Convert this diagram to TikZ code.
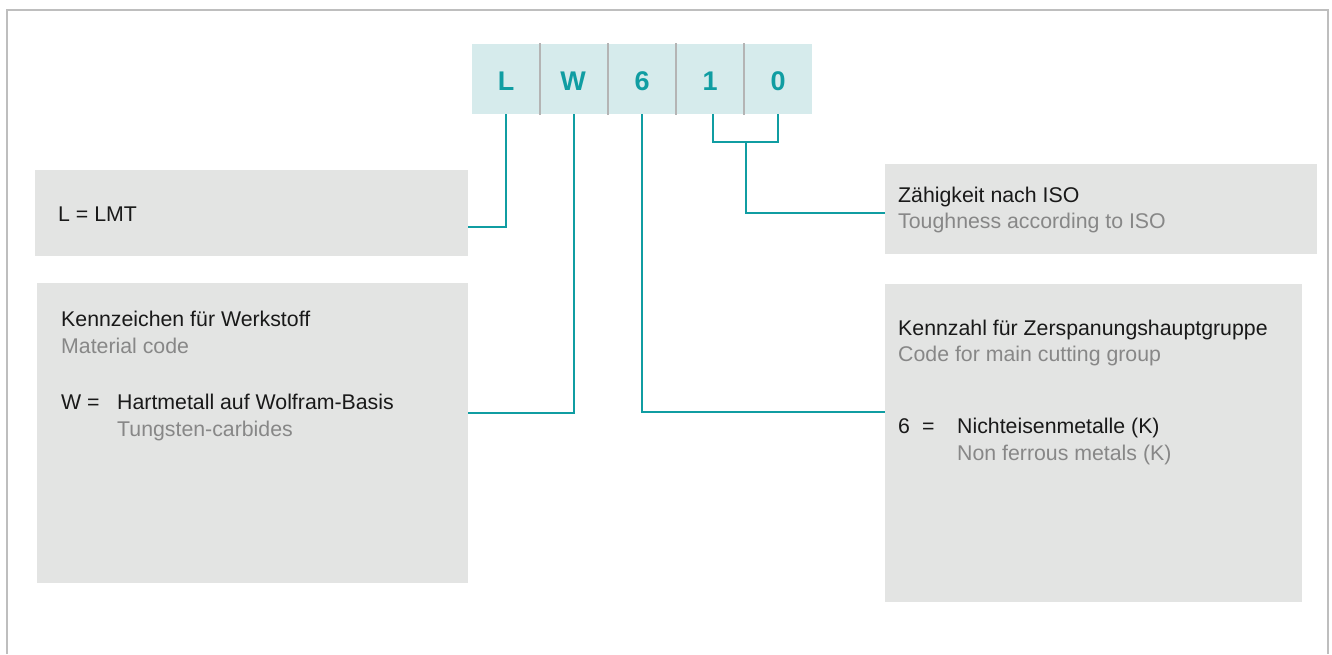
\documentclass[tikz,border=0pt]{standalone}
\usepackage{fontspec}
\setmainfont{Liberation Sans}
\definecolor{teal1}{RGB}{16,157,162}
\definecolor{cellbg}{RGB}{214,235,236}
\definecolor{boxbg}{RGB}{227,228,227}
\definecolor{framec}{RGB}{190,190,190}
\definecolor{sepc}{RGB}{180,180,180}
\definecolor{txtdark}{RGB}{25,25,25}
\definecolor{txtgray}{RGB}{135,135,135}
\tikzset{
  cell/.style={fill=cellbg, minimum width=68pt, minimum height=70pt, inner sep=0pt, text=teal1, font=\fontsize{27}{30}\selectfont\bfseries},
  codeletter/.style={anchor=base, inner sep=0pt, text=teal1, font=\fontsize{27}{30}\selectfont\bfseries},
  infobox/.style={fill=boxbg, inner sep=0pt, anchor=north west},
  conn/.style={draw=teal1, line width=2pt},
  sepline/.style={draw=sepc, line width=2pt},
  dark/.style={anchor=base west, inner sep=0pt, text=txtdark, font=\fontsize{21.3}{25}\selectfont},
  gray/.style={anchor=base west, inner sep=0pt, text=txtgray, font=\fontsize{21.3}{25}\selectfont},
  frameline/.style={draw=framec, line width=2pt}
}
\begin{document}
\begin{tikzpicture}[x=1pt,y=-1pt]
\useasboundingbox (0,0) rectangle (1332,654);
% frame (open at bottom)
\draw[frameline] (7,654) -- (7,10) -- (1328,10) -- (1328,654);

% code cells
\node[cell] (cL) at (505.5,79) {};
\node[cell] (cW) at (574,79) {};
\node[cell] (c6) at (642,79) {};
\node[cell] (c1) at (710,79) {};
\node[cell] (c0) at (777.5,79) {};
\draw[sepline] (540,43) -- (540,115);
\draw[sepline] (608,43) -- (608,115);
\draw[sepline] (676,43) -- (676,115);
\draw[sepline] (744,43) -- (744,115);
\node[codeletter] (tL) at (506,90) {L};
\node[codeletter] (tW) at (573,90) {W};
\node[codeletter] (t6) at (642,90) {6};
\node[codeletter] (t1) at (710,90) {1};
\node[codeletter] (t0) at (778,90) {0};

% info boxes
\node[infobox, minimum width=433pt, minimum height=86pt] (b1) at (35,170) {};
\node[infobox, minimum width=431pt, minimum height=300pt] (b2) at (37,283) {};
\node[infobox, minimum width=432pt, minimum height=90pt] (b3) at (885,164) {};
\node[infobox, minimum width=417pt, minimum height=318pt] (b4) at (885,284) {};

% texts
\node[dark] (l1) at (58,221) {L = LMT};

\node[dark] (k1) at (61,326) {Kennzeichen für Werkstoff};
\node[gray] (k2) at (61,353) {Material code};
\node[dark] (k3) at (61,409) {W =};
\node[dark] (k4) at (117,409) {Hartmetall auf Wolfram-Basis};
\node[gray] (k5) at (117,436) {Tungsten-carbides};

\node[dark] (z1) at (898,202) {Zähigkeit nach ISO};
\node[gray] (z2) at (898,228) {Toughness according to ISO};

\node[dark] (m1) at (898,335) {Kennzahl für Zerspanungshauptgruppe};
\node[gray] (m2) at (898,361) {Code for main cutting group};
\node[dark] (m3) at (898,433) {6};
\node[dark] (m4) at (922,433) {=};
\node[dark] (m5) at (957,433) {Nichteisenmetalle (K)};
\node[gray] (m6) at (957,460) {Non ferrous metals (K)};

% connector endpoints
\coordinate (e1) at (b1.east |- 0,227);
\coordinate (e2) at (b2.east |- 0,413);
\coordinate (e3) at (b3.west |- 0,213);
\coordinate (e4) at (b4.west |- 0,412);
\coordinate (brk) at (746,142);

% connectors
\draw[conn] (cL.south) |- (e1);
\draw[conn] (cW.south) |- (e2);
\draw[conn] (c6.south) |- (e4);
\draw[conn] (c1.south -| 713,0) |- (brk) -| (c0.south);
\draw[conn] (brk) |- (e3);
\end{tikzpicture}
\end{document}
